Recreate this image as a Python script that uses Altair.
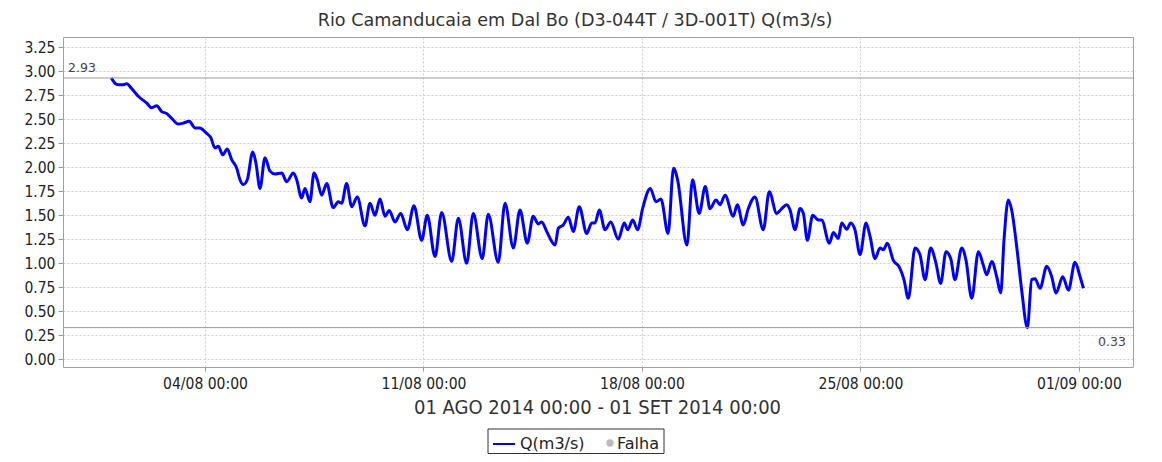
import altair as alt
import pandas as pd

title_text = "Rio Camanducaia em Dal Bo (D3-044T / 3D-001T) Q(m3/s)"
period_text = "01 AGO 2014 00:00 - 01 SET 2014 00:00"

# hours since 01/08/2014 00:00
hours = [0, 2.8, 5.3, 9.2, 11.8, 15.6, 20.7, 27.1, 31.0, 34.8,
         38.7, 42.5, 46.4, 51.4, 55.3, 59.9, 64.3, 68.1, 72.7, 76.4,
         79.7, 82.2, 85.6, 89.1, 92.5, 96.4, 98.9, 101.4, 104.5, 108.7,
         111.2, 114.3, 118.1, 122.0, 125.8, 131.0, 134.8, 139.9, 142.5, 146.3,
         148.9, 152.7, 155.8, 158.3, 161.7, 165.6, 170.6, 174.5, 177.1, 180.9,
         184.8, 189.1, 195.0, 198.9, 202.7, 206.6, 210.4, 213.7, 218.1, 222.5,
         227.6, 232.7, 238.6, 242.9, 248.9, 254.0, 261.7, 266.8, 273.2, 278.3,
         285.2, 289.8, 297.5, 302.7, 309.1, 314.2, 319.8, 324.4, 328.3, 330.9,
         334.8, 341.2, 343.7, 347.5, 351.4, 355.2, 359.8, 365.5, 369.4, 371.9,
         375.2, 379.6, 384.0, 389.8, 394.4, 397.0, 400.9, 404.7, 408.5, 414.4,
         418.8, 422.6, 428.1, 432.3, 435.4, 442.6, 446.9, 452.0, 456.7, 460.3,
         464.9, 468.0, 471.9, 478.2, 481.3, 485.9, 489.8, 494.9, 501.3, 505.9,
         511.6, 515.5, 519.3, 521.9, 525.7, 529.6, 532.1, 535.2, 539.3, 543.6,
         546.2, 552.1, 555.2, 559.0, 561.6, 565.5, 568.5, 571.8, 575.7, 580.3,
         583.4, 587.2, 591.1, 593.6, 596.7, 601.3, 605.9, 609.5, 612.8, 618.0,
         621.8, 625.7, 630.0, 634.1, 637.7, 641.8, 645.4, 648.7, 653.9, 657.2,
         661.6, 666.7, 670.5, 673.1, 677.0, 680.8, 683.9, 686.4, 689.7, 692.3,
         696.2, 700.0, 704.4, 707.7, 710.3, 714.1, 719.3, 723.1, 726.4, 731.6,
         735.9, 741.0, 744.9, 747.5]

q = [2.93, 2.875, 2.86, 2.86, 2.87, 2.82, 2.74, 2.67, 2.62, 2.64,
     2.58, 2.56, 2.51, 2.45, 2.46, 2.48, 2.41, 2.41, 2.36, 2.31,
     2.20, 2.22, 2.13, 2.19, 2.08, 1.99, 1.87, 1.82, 1.87, 2.16,
     2.04, 1.78, 2.10, 1.96, 1.93, 1.94, 1.85, 1.94, 1.87, 1.68,
     1.78, 1.64, 1.94, 1.87, 1.71, 1.83, 1.58, 1.64, 1.625, 1.83,
     1.59, 1.69, 1.39, 1.625, 1.50, 1.67, 1.49, 1.55, 1.43, 1.52,
     1.35, 1.60, 1.24, 1.50, 1.07, 1.53, 1.02, 1.47, 1.00, 1.52,
     1.05, 1.51, 1.01, 1.625, 1.16, 1.555, 1.21, 1.49, 1.41, 1.43,
     1.33, 1.19, 1.365, 1.40, 1.48, 1.33, 1.59, 1.31, 1.42, 1.42,
     1.555, 1.35, 1.43, 1.25, 1.42, 1.35, 1.45, 1.35, 1.57, 1.78,
     1.64, 1.67, 1.31, 1.99, 1.87, 1.19, 1.87, 1.52, 1.80, 1.57,
     1.66, 1.61, 1.71, 1.49, 1.61, 1.40, 1.57, 1.69, 1.35, 1.745,
     1.52, 1.57, 1.61, 1.555, 1.35, 1.57, 1.52, 1.24, 1.50, 1.45,
     1.45, 1.21, 1.32, 1.26, 1.42, 1.355, 1.42, 1.35, 1.09, 1.42,
     1.28, 1.05, 1.16, 1.14, 1.21, 1.03, 0.96, 0.83, 0.635, 1.16,
     1.09, 0.83, 1.16, 1.00, 0.79, 1.12, 1.05, 0.83, 1.16, 1.03,
     0.635, 1.12, 0.98, 0.88, 1.02, 0.86, 0.69, 1.24, 1.66, 1.555,
     1.17, 0.72, 0.33, 0.83, 0.84, 0.74, 0.97, 0.86, 0.69, 0.86,
     0.72, 1.01, 0.86, 0.74]

tick_hours = [72, 240, 408, 576, 744]
tick_labels = ["04/08 00:00", "11/08 00:00", "18/08 00:00", "25/08 00:00", "01/09 00:00"]
y_ticks = [0.0, 0.25, 0.5, 0.75, 1.0, 1.25, 1.5, 1.75, 2.0, 2.25, 2.5, 2.75, 3.0, 3.25]
marker_values = [2.93, 0.33]
marker_labels = ["2.93", "0.33"]
legend_labels = ["Q(m3/s)", "Falha"]

W, H = 1070, 330
FONT = "DejaVu Sans Condensed, DejaVu Sans"
FONT_R = "DejaVu Sans"
BLUE = "#0000ff"

label_expr = "''"
for hv, lab in zip(reversed(tick_hours), reversed(tick_labels)):
    label_expr = f"datum.value == {hv} ? '{lab}' : ({label_expr})"

df = pd.DataFrame({"h": hours, "q": q})
df_m = pd.DataFrame({"v": marker_values, "lab": marker_labels})
one = pd.DataFrame({"t": [title_text], "p": [period_text],
                    "l1": [legend_labels[0]], "l2": [legend_labels[1]]})

xs = alt.Scale(domain=[-37.2, 785.6], nice=False, zero=False)
ys = alt.Scale(domain=[-0.08, 3.357], nice=False, zero=False)

x_axis = alt.Axis(values=tick_hours, labelExpr=label_expr, title=None,
                  grid=True, tickSize=4, labelPadding=5, labelFontSize=15.5,
                  labelOverlap=False)
y_axis = alt.Axis(values=y_ticks, format=".2f", title=None,
                  grid=True, tickSize=5, labelPadding=3, labelFontSize=15.5,
                  labelOverlap=False, labelSeparation=0)

line = alt.Chart(df).mark_line(color=BLUE, strokeWidth=3, interpolate="monotone").encode(
    x=alt.X("h:Q", scale=xs, axis=x_axis),
    y=alt.Y("q:Q", scale=ys, axis=y_axis),
)

rules = alt.Chart(df_m).mark_rule(color="#9a9a9a", strokeWidth=1).encode(
    y=alt.Y("v:Q", scale=ys, axis=y_axis), x=alt.value(0), x2=alt.value(W))

mtext_top = alt.Chart(df_m).transform_filter("datum.lab == '2.93'").mark_text(
    font=FONT_R, fontSize=12.5, color="#444", align="left", baseline="alphabetic", dy=-6).encode(
    y=alt.Y("v:Q", scale=ys, axis=y_axis), x=alt.value(5), text="lab:N")

mtext_bot = alt.Chart(df_m).transform_filter("datum.lab == '0.33'").mark_text(
    font=FONT_R, fontSize=12.5, color="#444", align="left", baseline="top", dy=8).encode(
    y=alt.Y("v:Q", scale=ys, axis=y_axis), x=alt.value(1035), text="lab:N")

title = alt.Chart(one).mark_text(font=FONT_R, fontSize=17.6, color="#333", align="center",
                                 baseline="alphabetic").encode(
    text="t:N", x=alt.value(512), y=alt.value(-11))

period = alt.Chart(one).mark_text(font=FONT, fontSize=20, color="#333", align="center",
                                  baseline="alphabetic").encode(
    text="p:N", x=alt.value(534.5), y=alt.value(377))

leg_box = alt.Chart(one).mark_rect(fill="white", stroke="#333", strokeWidth=1).encode(
    x=alt.value(425), x2=alt.value(601), y=alt.value(392), y2=alt.value(416.5))
leg_line = alt.Chart(one).mark_rule(color=BLUE, strokeWidth=2).encode(
    x=alt.value(430), x2=alt.value(452), y=alt.value(407))
leg_dot = alt.Chart(one).mark_point(filled=True, color="#bbbbbb", size=55, opacity=1).encode(
    x=alt.value(547), y=alt.value(406))
leg_t1 = alt.Chart(one).mark_text(font=FONT_R, fontSize=16, color="#222", align="left",
                                  baseline="alphabetic").encode(
    text="l1:N", x=alt.value(457), y=alt.value(412))
leg_t2 = alt.Chart(one).mark_text(font=FONT_R, fontSize=16, color="#222", align="left",
                                  baseline="alphabetic").encode(
    text="l2:N", x=alt.value(554), y=alt.value(412))

chart = alt.layer(
    line, rules, mtext_top, mtext_bot, title, period,
    leg_box, leg_line, leg_dot, leg_t1, leg_t2
).properties(
    width=W, height=H,
    autosize=alt.AutoSizeParams(type="none"),
    padding={"left": 55, "top": 29, "right": 21, "bottom": 87},
).configure_view(
    stroke="#a0a0a0", strokeWidth=1
).configure_axis(
    domain=False, tickColor="#999", labelColor="#222", labelFont=FONT,
    gridColor="#cccccc", gridDash=[2, 2], gridWidth=1, labelOverlap=False,
)

chart.save("out.html", embed_options={"renderer": "svg", "actions": False})
